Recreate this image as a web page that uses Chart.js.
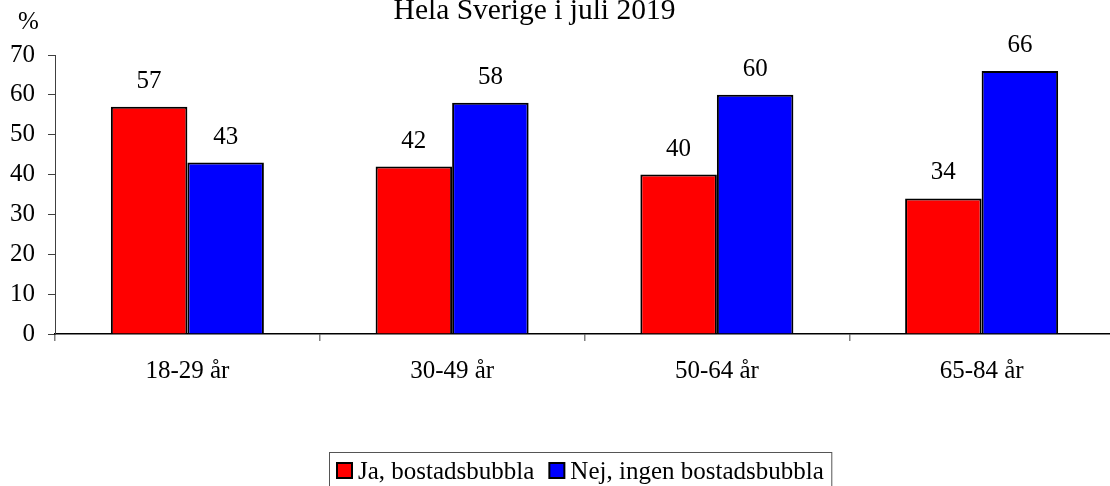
<!DOCTYPE html>
<html>
<head>
<meta charset="utf-8">
<script src="https://cdn.jsdelivr.net/npm/chart.js@4/dist/chart.umd.min.js"></script>
<style>
  html, body { margin: 0; padding: 0; background: #fff; overflow: hidden; }
  #wrap { width: 1110px; height: 486px; overflow: hidden; }
  canvas { display: block; }
</style>
</head>
<body>
<div id="wrap"><canvas id="c" width="1120" height="486"></canvas></div>
<script>
const categories = ["18-29 år", "30-49 år", "50-64 år", "65-84 år"];
const jaValues = [57, 42, 40, 34];
const nejValues = [43, 58, 60, 66];
const seriesNames = ["Ja, bostadsbubbla", "Nej, ingen bostadsbubbla"];
const titleText = "Hela Sverige i juli 2019";
const unitText = "%";

const FONT = "'Liberation Serif', 'Times New Roman', serif";

const extras = {
  id: 'extras',
  afterDatasetsDraw(chart) {
    const ctx = chart.ctx;
    ctx.save();
    ctx.fillStyle = '#000';
    ctx.textBaseline = 'alphabetic';
    // value labels
    ctx.font = '25px ' + FONT;
    ctx.textAlign = 'center';
    chart.data.datasets.forEach((ds, i) => {
      const meta = chart.getDatasetMeta(i);
      meta.data.forEach((bar, j) => {
        ctx.fillText(String(ds.data[j]), bar.x, bar.y - 19);
      });
    });
    // title
    ctx.font = '29.5px ' + FONT;
    ctx.fillText(titleText, 534.5, 19);
    // unit
    ctx.font = '25px ' + FONT;
    ctx.textAlign = 'left';
    ctx.fillText(unitText, 18, 29);
    // legend
    const items = chart.data.datasets.map(ds => ({ label: ds.label, color: ds.backgroundColor }));
    ctx.font = '25px ' + FONT;
    let x = 337;
    const sq = 15, top = 463;
    items.forEach(it => {
      ctx.fillStyle = it.color;
      ctx.fillRect(x, top, sq, sq);
      ctx.strokeStyle = '#000';
      ctx.lineWidth = 2;
      ctx.strokeRect(x, top, sq, sq);
      ctx.fillStyle = '#000';
      ctx.fillText(it.label, x + 21, 479);
      x += 21 + ctx.measureText(it.label).width + 15;
    });
    ctx.strokeStyle = '#555';
    ctx.lineWidth = 1;
    ctx.strokeRect(329.5, 452.5, x - 15 + 8 - 329.5, 60);
    ctx.restore();
  }
};

new Chart(document.getElementById('c'), {
  type: 'bar',
  data: {
    labels: categories,
    datasets: [
      { label: seriesNames[0], data: jaValues, backgroundColor: '#FF0000', borderColor: '#000', borderWidth: 2 },
      { label: seriesNames[1], data: nejValues, backgroundColor: '#0000FF', borderColor: '#000', borderWidth: 2 }
    ]
  },
  options: {
    responsive: false,
    animation: false,
    devicePixelRatio: 1,
    layout: { padding: { top: 55, right: 6, left: 0, bottom: 0 } },
    datasets: { bar: { categoryPercentage: 0.578, barPercentage: 1 } },
    plugins: { legend: { display: false }, title: { display: false }, tooltip: { enabled: false } },
    scales: {
      x: {
        afterFit(s) { s.height = 152; },
        grid: { display: true, drawOnChartArea: false, tickLength: 7, color: '#808080', lineWidth: 1.5, offset: true },
        border: { display: true, color: '#000', width: 1.5 },
        ticks: { color: '#000', font: { family: FONT, size: 25 }, padding: 15, maxRotation: 0 }
      },
      y: {
        min: 0, max: 70,
        afterFit(s) { s.width = 55; },
        grid: { display: true, drawOnChartArea: false, tickLength: 7, color: '#404040', lineWidth: 1 },
        border: { display: true, color: '#404040', width: 1 },
        ticks: { stepSize: 10, color: '#000', font: { family: FONT, size: 25 }, padding: 13 }
      }
    }
  },
  plugins: [extras]
});
</script>
</body>
</html>
